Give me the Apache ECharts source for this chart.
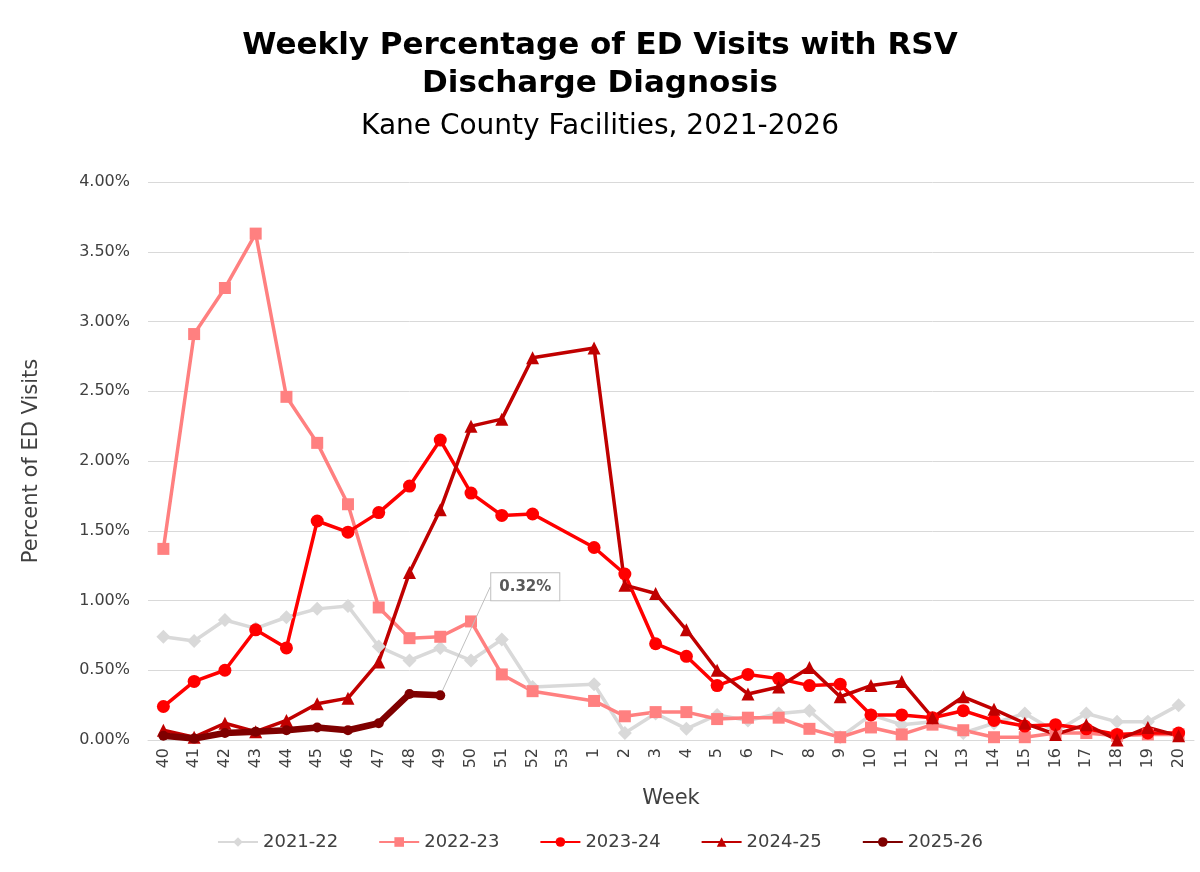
<!DOCTYPE html>
<html>
<head>
<meta charset="utf-8">
<script src="https://cdn.jsdelivr.net/npm/echarts@6/dist/echarts.min.js"></script>
<style>html,body{margin:0;background:#fff}#chart{width:1200px;height:872px}</style>
</head>
<body>
<div id="chart"></div>
<script>
var weeks = ['40','41','42','43','44','45','46','47','48','49','50','51','52','53','1','2','3','4','5','6','7','8','9','10','11','12','13','14','15','16','17','18','19','20'];
var s2122 = [.74,.71,.86,.80,.88,.94,.96,.67,.57,.66,.57,.72,.38,null,.40,.05,.19,.08,.18,.14,.19,.21,.02,.18,.11,.13,.05,.12,.19,.06,.19,.13,.13,.25];
var s2223 = [1.37,2.91,3.24,3.63,2.46,2.13,1.69,.95,.73,.74,.85,.47,.35,null,.28,.17,.20,.20,.15,.16,.16,.08,.02,.09,.04,.11,.07,.02,.02,.05,.05,.03,.04,.04];
var s2324 = [.24,.42,.50,.79,.66,1.57,1.49,1.63,1.82,2.15,1.77,1.61,1.62,null,1.38,1.19,.69,.60,.39,.47,.44,.39,.40,.18,.18,.16,.21,.14,.10,.11,.08,.04,.05,.05];
var s2425 = [.07,.02,.12,.06,.14,.26,.30,.56,1.20,1.65,2.25,2.30,2.74,null,2.81,1.11,1.05,.79,.50,.33,.38,.52,.31,.39,.42,.16,.31,.22,.12,.04,.11,.00,.09,.03];
var s2526 = [.03,.01,.05,.06,.07,.09,.07,.12,.33,.32];

var font = 'DejaVu Sans';

// last point of current season gets the callout label
var cur = s2526.map(function(v, i){
    if (i === s2526.length - 1) {
        return {
            value: v,
            label: {
                show: true, formatter: '0.32%', position: 'top',
                fontFamily: font, fontWeight: 'bold', fontSize: 15, color: '#595959',
                backgroundColor: '#fff', borderColor: '#bfbfbf', borderWidth: 1,
                padding: [6, 8]
            },
            labelLine: { show: true, lineStyle: { color: '#bfbfbf', width: 1 } }
        };
    }
    return v;
});

function mk(name, data, color, symbol, size, width){
    return {
        name: name, type: 'line', data: data, connectNulls: true,
        symbol: symbol, symbolSize: size,
        itemStyle: { color: color },
        lineStyle: { color: color, width: width },
        emphasis: { disabled: true }
    };
}

var series = [
    mk('2021-22', s2122, '#d9d9d9', 'diamond', 14, 3.5),
    mk('2022-23', s2223, '#ff8080', 'rect', 12, 3.5),
    mk('2023-24', s2324, '#ff0000', 'circle', 13, 3.5),
    mk('2024-25', s2425, '#c00000', 'triangle', 13, 3.5),
    mk('2025-26', cur, '#7f0000', 'circle', 10, 6.5)
];
series[4].labelLayout = { dx: 85, dy: -85 };
series[4].z = 5;

echarts.init(document.getElementById('chart')).setOption({
    animation: false,
    title: [
        { text: 'Weekly Percentage of ED Visits with RSV\nDischarge Diagnosis', left: 'center', top: 22,
          textStyle: { fontFamily: font, fontWeight: 'bold', fontSize: 31, lineHeight: 38, color: '#000' } },
        { text: 'Kane County Facilities, 2021-2026', left: 'center', top: 108,
          textStyle: { fontFamily: font, fontWeight: 'normal', fontSize: 28, color: '#000' } }
    ],
    grid: { left: 148, right: 6, top: 182, bottom: 132 },
    legend: {
        bottom: 16, left: 'center', itemGap: 40, itemWidth: 40, itemHeight: 12,
        textStyle: { fontFamily: font, fontSize: 18, color: '#404040' }
    },
    xAxis: {
        type: 'category', data: weeks,
        name: 'Week', nameLocation: 'middle', nameGap: 48,
        nameTextStyle: { fontFamily: font, fontSize: 21, color: '#404040' },
        axisTick: { show: false },
        axisLine: { lineStyle: { color: '#d9d9d9' } },
        axisLabel: { rotate: 90, interval: 0, fontFamily: font, fontSize: 16, color: '#404040' }
    },
    yAxis: {
        type: 'value', min: 0, max: 4, interval: 0.5,
        name: 'Percent of ED Visits', nameLocation: 'middle', nameGap: 106,
        nameTextStyle: { fontFamily: font, fontSize: 21, color: '#404040' },
        axisLine: { show: false }, axisTick: { show: false },
        splitLine: { lineStyle: { color: '#d9d9d9' } },
        axisLabel: { fontFamily: font, fontSize: 16, color: '#404040', margin: 18,
            formatter: function(v){ return v.toFixed(2) + '%'; } }
    },
    series: series
});
</script>
</body>
</html>
